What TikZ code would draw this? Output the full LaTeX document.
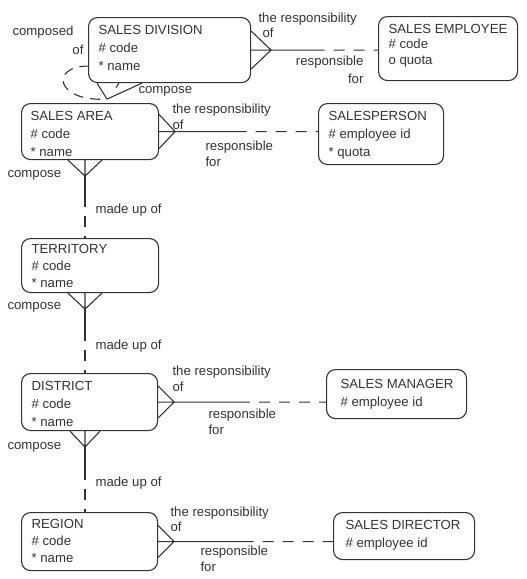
\documentclass[tikz,border=0pt]{standalone}
\usepackage{fontspec}
\setmainfont{Liberation Sans}
\usetikzlibrary{calc}

\begin{document}
\begin{tikzpicture}[x=1pt, y=-1pt, color=black!80, line width=1.1pt,
  font=\fontsize{13.2}{18}\selectfont,
  entbox/.style={draw, rounded corners=9pt, anchor=north west, inner sep=0pt},
  enttext/.style={anchor=north west, align=left, inner sep=0pt, xshift=10pt, yshift=-7.5pt},
  lbl/.style={inner sep=0pt},
  optline/.style={dash pattern=on 11pt off 9pt, dash phase=11pt}]

\useasboundingbox (0,0) rectangle (527,579);

% --- Entities ---
\node[entbox, minimum width=162pt, minimum height=65pt] (div) at (88,17) {};
\node[enttext] (divtxt) at (div.north west) {SALES DIVISION\\\# code\\* name};

\node[entbox, minimum width=139pt, minimum height=64pt] (emp) at (378,16) {};
\node[enttext, font=\fontsize{13.2}{15.5}\selectfont] (emptxt) at (emp.north west) {SALES EMPLOYEE\\\# code\\o quota};

\node[entbox, minimum width=137pt, minimum height=56pt] (area) at (21,103) {};
\node[enttext, xshift=-1pt] (areatxt) at (area.north west) {SALES AREA\\\# code\\* name};

\node[entbox, minimum width=125pt, minimum height=61pt] (sp) at (318,103) {};
\node[enttext] (sptxt) at (sp.north west) {SALESPERSON\\\# employee id\\* quota};

\node[entbox, minimum width=137pt, minimum height=54pt] (terr) at (21,238) {};
\node[enttext, yshift=2pt, font=\fontsize{13.2}{17}\selectfont] (terrtxt) at (terr.north west) {TERRITORY\\\# code\\* name};

\node[entbox, minimum width=136pt, minimum height=57pt] (dist) at (21,373) {};
\node[enttext] (disttxt) at (dist.north west) {DISTRICT\\\# code\\* name};

\node[entbox, minimum width=140pt, minimum height=49pt] (mgr) at (326,369) {};
\node[enttext, xshift=4pt, yshift=-2.5pt] (mgrtxt) at (mgr.north west) {SALES MANAGER\\\# employee id};

\node[entbox, minimum width=136pt, minimum height=58pt] (reg) at (21,512) {};
\node[enttext, yshift=1pt, font=\fontsize{13.2}{17}\selectfont] (regtxt) at (reg.north west) {REGION\\\# code\\* name};

\node[entbox, minimum width=141pt, minimum height=47pt] (dir) at (333,512) {};
\node[enttext, xshift=2pt] (dirtxt) at (dir.north west) {SALES DIRECTOR\\\# employee id};

% --- Sales division: recursive composition ---
\coordinate (divloop) at ($(div.south west)+(19,16)$);
\draw ($(div.south west)+(9,0)$) -- (divloop) -- ($(div.south west)+(54,0)$);
\draw ($(div.south west)+(31,0)$) -- ($(div.south west)+(28,4.5)$);
\draw[dash pattern=on 10pt off 7pt, dash phase=10pt] (divloop) .. controls (55,102) and (50,66) .. ($(div.south west)+(0,-17)$);
\node[lbl, anchor=west] (lcomposed) at (12,32) {composed};
\node[lbl, anchor=east] (lcomposedof) at (84,50) {of};
\node[lbl, anchor=west] (ldivcompose) at (138,91) {compose};

% --- Responsibility: sales division / sales employee ---
\coordinate (divfoot) at ($(div.east)+(20,0)$);
\draw ($(div.east)+(0,-19)$) -- (divfoot) -- ($(div.east)+(0,19)$) (div.east) -- (divfoot);
\draw (divfoot) -- ($(divfoot)!0.5!(divfoot -| emp.west)$) coordinate (divmid);
\draw[optline] (divmid) -- (divfoot -| emp.west);
\node[lbl, anchor=west] (ldivresp) at (258,19) {the responsibility};
\node[lbl, anchor=west] (ldivof) at (262,33) {of};
\node[lbl, anchor=east] (lempresp) at (364,62) {responsible};
\node[lbl, anchor=east] (lempfor) at (364,79) {for};

% --- Responsibility: sales area / salesperson ---
\coordinate (areafoot) at ($(area.east)+(16,0)$);
\draw ($(area.east)+(0,-17)$) -- (areafoot) -- ($(area.east)+(0,17)$) (area.east) -- (areafoot);
\draw (areafoot) -- ($(areafoot)!0.5!(areafoot -| sp.west)$) coordinate (areamid);
\draw[optline] (areamid) -- (areafoot -| sp.west);
\node[lbl, anchor=west] (lareresp) at (172,110) {the responsibility};
\node[lbl, anchor=west] (lareof) at (172,125) {of};
\node[lbl, anchor=west] (lspresp) at (205,147) {responsible};
\node[lbl, anchor=west] (lspfor) at (205,162) {for};

% --- Sales area / territory ---
\coordinate (areadown) at ($(area.south west)+(64,16)$);
\draw ($(area.south west)+(47,0)$) -- (areadown) -- ($(area.south west)+(81,0)$) ($(area.south west)+(64,0)$) -- (areadown);
\draw (areadown) -- ($(areadown)!0.5!(areadown |- terr.north)$) coordinate (areavmid);
\draw[optline] (areavmid) -- (areadown |- terr.north);
\node[lbl, anchor=west] (lareacomp) at (7,175) {compose};
\node[lbl, anchor=west] (lterrmade) at (95,210) {made up of};

% --- Territory / district ---
\coordinate (terrdown) at ($(terr.south west)+(64,16)$);
\draw ($(terr.south west)+(47,0)$) -- (terrdown) -- ($(terr.south west)+(81,0)$) ($(terr.south west)+(64,0)$) -- (terrdown);
\draw (terrdown) -- ($(terrdown)!0.5!(terrdown |- dist.north)$) coordinate (terrvmid);
\draw[optline] (terrvmid) -- (terrdown |- dist.north);
\node[lbl, anchor=west] (lterrcomp) at (7,307) {compose};
\node[lbl, anchor=west] (ldistmade) at (95,346) {made up of};

% --- Responsibility: district / sales manager ---
\coordinate (distfoot) at ($(dist.east)+(16,0)$);
\draw ($(dist.east)+(0,-16)$) -- (distfoot) -- ($(dist.east)+(0,16)$) (dist.east) -- (distfoot);
\draw (distfoot) -- ($(distfoot)!0.5!(distfoot -| mgr.west)$) coordinate (distmid);
\draw[optline] (distmid) -- (distfoot -| mgr.west);
\node[lbl, anchor=west] (ldistresp) at (172,372) {the responsibility};
\node[lbl, anchor=west] (ldistof) at (172,387) {of};
\node[lbl, anchor=west] (lmgrresp) at (208,415) {responsible};
\node[lbl, anchor=west] (lmgrfor) at (208,430) {for};

% --- District / region ---
\coordinate (distdown) at ($(dist.south west)+(64,16)$);
\draw ($(dist.south west)+(49,0)$) -- (distdown) -- ($(dist.south west)+(79,0)$) ($(dist.south west)+(64,0)$) -- (distdown);
\draw (distdown) -- ($(distdown)!0.5!(distdown |- reg.north)$) coordinate (distvmid);
\draw[optline] (distvmid) -- (distdown |- reg.north);
\node[lbl, anchor=west] (ldistcomp) at (7,447) {compose};
\node[lbl, anchor=west] (lregmade) at (95,483) {made up of};

% --- Responsibility: region / sales director ---
\coordinate (regfoot) at ($(reg.east)+(16,0)$);
\draw ($(reg.east)+(0,-16)$) -- (regfoot) -- ($(reg.east)+(0,16)$) (reg.east) -- (regfoot);
\draw (regfoot) -- ($(regfoot)!0.5!(regfoot -| dir.west)$) coordinate (regmid);
\draw[optline] (regmid) -- (regfoot -| dir.west);
\node[lbl, anchor=west] (lregresp) at (170,513) {the responsibility};
\node[lbl, anchor=west] (lregof) at (170,527) {of};
\node[lbl, anchor=west] (ldirresp) at (200,552) {responsible};
\node[lbl, anchor=west] (ldirfor) at (200,567) {for};

\end{tikzpicture}
\end{document}
